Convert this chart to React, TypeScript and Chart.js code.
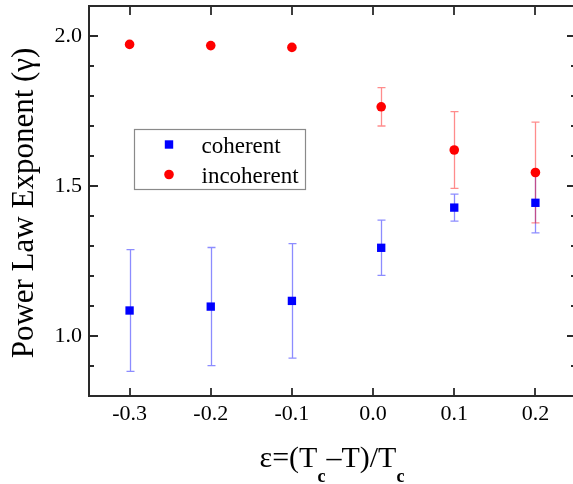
import React, { useEffect, useRef } from "react";
import { Chart, registerables } from "chart.js";

Chart.register(...registerables);

// ---- data ----
const epsilonValues = [-0.3, -0.2, -0.1, 0.01, 0.1, 0.2];
const coherentValues = [1.085, 1.098, 1.117, 1.294, 1.428, 1.444];
const coherentErrors = [0.203, 0.197, 0.191, 0.092, 0.045, 0.1];
const incoherentValues = [1.972, 1.968, 1.962, 1.764, 1.62, 1.545];
const incoherentErrors = [0, 0, 0, 0.064, 0.128, 0.168];
const seriesLabels = ["coherent", "incoherent"];

const xTickValues = [-0.3, -0.2, -0.1, 0.0, 0.1, 0.2];
const yTickValues = [1.0, 1.5, 2.0];
const yMinorTickValues = [0.9, 1.1, 1.2, 1.3, 1.4, 1.6, 1.7, 1.8, 1.9];
const xRange = [-0.35, 0.25];
const yRange = [0.8, 2.1];

const yTitleText = "Power Law Exponent (γ)";
const xTitleParts = [
  { text: "ε=(T", sub: false },
  { text: "c", sub: true },
  { text: "–T)/T", sub: false },
  { text: "c", sub: true },
];

const FONT = "'Liberation Serif', 'Times New Roman', serif";
const AXIS_COLOR = "#2a2a2a";

const decorPlugin = {
  id: "decor",
  beforeDatasetsDraw(chart: any) {
    const { ctx } = chart;
    const xs = chart.scales.x;
    const ys = chart.scales.y;
    ctx.save();
    chart.data.datasets.forEach((ds: any) => {
      ctx.strokeStyle = ds.errorColor;
      ctx.lineWidth = 1.3;
      ds.data.forEach((p: any, i: number) => {
        const e = ds.errors[i];
        if (!e) return;
        const px = Math.round(xs.getPixelForValue(p.x)) + 0.5;
        const top = ys.getPixelForValue(p.y + e);
        const bot = ys.getPixelForValue(p.y - e);
        ctx.beginPath();
        ctx.moveTo(px, top);
        ctx.lineTo(px, bot);
        ctx.moveTo(px - 4, top);
        ctx.lineTo(px + 4, top);
        ctx.moveTo(px - 4, bot);
        ctx.lineTo(px + 4, bot);
        ctx.stroke();
      });
    });
    ctx.restore();
  },
  afterDraw(chart: any) {
    const { ctx, chartArea } = chart;
    const { left, right, top, bottom } = chartArea;
    const xs = chart.scales.x;
    const ys = chart.scales.y;
    ctx.save();
    // frame
    ctx.strokeStyle = AXIS_COLOR;
    ctx.lineWidth = 2;
    ctx.beginPath();
    ctx.rect(left, top, right - left, bottom - top);
    ctx.stroke();
    // inward ticks
    ctx.lineWidth = 1.8;
    ctx.beginPath();
    const yTick = (v: number, len: number) => {
      const py = Math.round(ys.getPixelForValue(v));
      ctx.moveTo(left, py);
      ctx.lineTo(left + len, py);
      ctx.moveTo(right, py);
      ctx.lineTo(right - len, py);
    };
    yTickValues.forEach((v) => yTick(v, 9));
    yMinorTickValues.forEach((v) => yTick(v, 5));
    xTickValues.forEach((v) => {
      const px = Math.round(xs.getPixelForValue(v));
      ctx.moveTo(px, bottom);
      ctx.lineTo(px, bottom - 8);
      ctx.moveTo(px, top);
      ctx.lineTo(px, top + 9);
    });
    ctx.stroke();

    // y title
    ctx.fillStyle = "#000";
    ctx.save();
    ctx.translate(33, (top + bottom) / 2 + 2);
    ctx.rotate(-Math.PI / 2);
    ctx.font = `31px ${FONT}`;
    ctx.textAlign = "center";
    ctx.textBaseline = "alphabetic";
    ctx.fillText(yTitleText, 0, 0);
    ctx.restore();

    // x title with subscripts
    const mainFont = `30px ${FONT}`;
    const subFont = `bold 18px ${FONT}`;
    let total = 0;
    const widths = xTitleParts.map((p) => {
      ctx.font = p.sub ? subFont : mainFont;
      const w = ctx.measureText(p.text).width + (p.sub ? 1 : 0);
      total += w;
      return w;
    });
    let cx = (left + right) / 2 - total / 2;
    const baseY = 467;
    ctx.textAlign = "left";
    ctx.textBaseline = "alphabetic";
    xTitleParts.forEach((p, i) => {
      ctx.font = p.sub ? subFont : mainFont;
      ctx.fillText(p.text, cx, p.sub ? baseY + 15 : baseY);
      cx += widths[i];
    });

    // legend
    const bx = left + 45.5;
    const by = top + 123.5;
    ctx.fillStyle = "#fff";
    ctx.fillRect(bx, by, 171, 60);
    ctx.strokeStyle = "#8a8a8a";
    ctx.lineWidth = 1.2;
    ctx.strokeRect(bx, by, 171, 60);
    chart.data.datasets.forEach((ds: any, i: number) => {
      const my = by + 15 + i * 30;
      const mx = bx + 34.5;
      ctx.fillStyle = ds.backgroundColor;
      if (ds.pointStyle === "rect") {
        ctx.fillRect(mx - 4.2, my - 4.2, 8.4, 8.4);
      } else {
        ctx.beginPath();
        ctx.arc(mx, my, 4.8, 0, Math.PI * 2);
        ctx.fill();
      }
      ctx.fillStyle = "#000";
      ctx.font = `23px ${FONT}`;
      ctx.textBaseline = "alphabetic";
      ctx.fillText(ds.label, bx + 67, my + 8.3);
    });
    ctx.restore();
  },
};

export default function App() {
  const canvasRef = useRef<HTMLCanvasElement | null>(null);

  useEffect(() => {
    if (!canvasRef.current) return;
    const chart = new Chart(canvasRef.current, {
      type: "scatter",
      data: {
        datasets: [
          {
            label: seriesLabels[0],
            data: epsilonValues.map((x, i) => ({ x, y: coherentValues[i] })),
            errors: coherentErrors,
            errorColor: "rgba(0,0,255,0.45)",
            pointStyle: "rect",
            pointRadius: 5.9,
            backgroundColor: "#0000ff",
            borderWidth: 0,
          } as any,
          {
            label: seriesLabels[1],
            data: epsilonValues.map((x, i) => ({ x, y: incoherentValues[i] })),
            errors: incoherentErrors,
            errorColor: "rgba(255,0,0,0.45)",
            pointStyle: "circle",
            pointRadius: 4.8,
            backgroundColor: "#ff0000",
            borderWidth: 0,
          } as any,
        ],
      },
      options: {
        animation: false,
        responsive: false,
        layout: { autoPadding: false, padding: { top: 6, right: 0, left: 0, bottom: 0 } },
        plugins: {
          legend: { display: false },
          tooltip: { enabled: false },
        },
        scales: {
          x: {
            type: "linear",
            min: xRange[0],
            max: xRange[1],
            grid: { display: true, drawOnChartArea: false, drawTicks: false, color: "rgba(0,0,0,0)" },
            border: { display: false },
            ticks: {
              padding: 5,
              color: "#000",
              font: { family: FONT, size: 22 },
              callback: (v: any) => Number(v).toFixed(1),
            },
            afterBuildTicks: (scale: any) => {
              scale.ticks = xTickValues.map((v) => ({ value: v }));
            },
            afterFit: (scale: any) => {
              scale.height = 88;
              scale.paddingLeft = 0;
              scale.paddingRight = 0;
            },
          },
          y: {
            type: "linear",
            min: yRange[0],
            max: yRange[1],
            grid: { display: true, drawOnChartArea: false, drawTicks: false, color: "rgba(0,0,0,0)" },
            border: { display: false },
            ticks: {
              padding: 7,
              color: "#000",
              font: { family: FONT, size: 22 },
              callback: (v: any) => Number(v).toFixed(1),
            },
            afterBuildTicks: (scale: any) => {
              scale.ticks = yTickValues.map((v) => ({ value: v }));
            },
            afterFit: (scale: any) => {
              scale.width = 89;
              scale.paddingTop = 0;
              scale.paddingBottom = 0;
            },
          },
        },
      },
      plugins: [decorPlugin],
    } as any);
    return () => chart.destroy();
  }, []);

  return (
    <div
      style={{
        position: "fixed",
        left: 0,
        top: 0,
        width: 573,
        height: 484,
        overflow: "hidden",
        background: "#fff",
      }}
    >
      <canvas ref={canvasRef} width={576} height={484} style={{ display: "block" }} />
    </div>
  );
}
